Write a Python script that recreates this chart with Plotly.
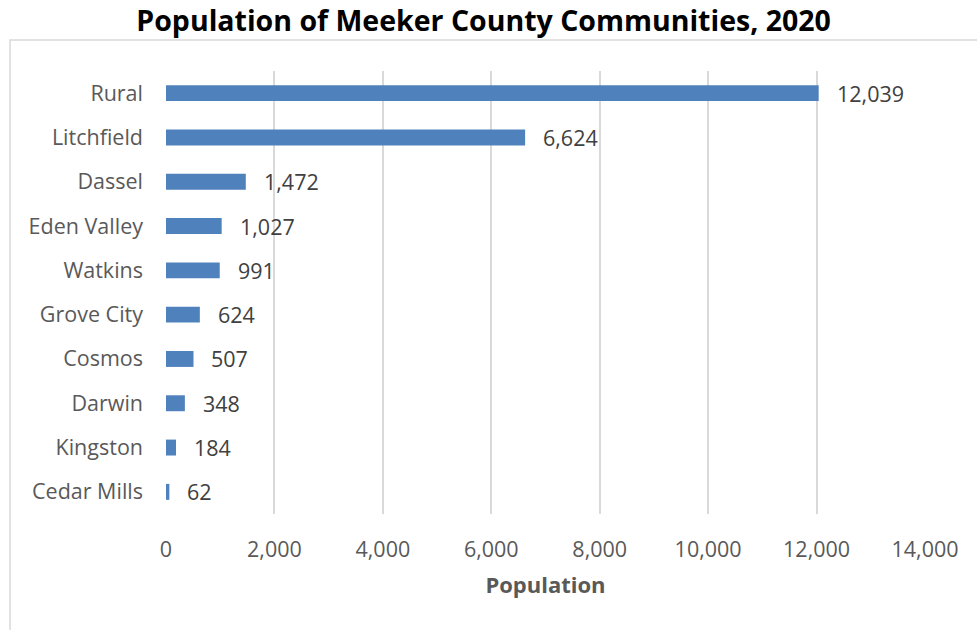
import plotly.graph_objects as go

# Meeker County communities, 2020 population
communities = ["Rural", "Litchfield", "Dassel", "Eden Valley", "Watkins",
               "Grove City", "Cosmos", "Darwin", "Kingston", "Cedar Mills"]
population = [12039, 6624, 1472, 1027, 991, 624, 507, 348, 184, 62]
tick_values = [0, 2000, 4000, 6000, 8000, 10000, 12000, 14000]
tick_labels = ["0", "2,000", "4,000", "6,000", "8,000", "10,000", "12,000", "14,000"]

BAR = "#4F81BD"
GRID = "#D9D9D9"
TXT = "#595959"
FONT = "Open Sans"

fig = go.Figure(go.Bar(
    x=population,
    y=communities,
    orientation="h",
    marker=dict(color=BAR, line=dict(width=0)),
    hoverinfo="skip",
))

# value labels to the right of each bar
for name, val in zip(communities, population):
    fig.add_annotation(
        x=val, y=name, xref="x", yref="y",
        text=f"{val:,}", showarrow=False,
        xanchor="left", yanchor="middle", xshift=16,
        font=dict(family=FONT, size=21.5, color="#404040"),
    )

# light chart-area border
fig.add_shape(type="rect", xref="paper", yref="paper",
              x0=-0.2055, x1=1.3, y0=-0.5, y1=1.07,
              line=dict(color=GRID, width=1.5), fillcolor="rgba(0,0,0,0)", layer="below")

fig.update_layout(
    width=977, height=630,
    margin=dict(l=166, r=52, t=71, b=116),
    paper_bgcolor="white", plot_bgcolor="white",
    bargap=0.64,
    showlegend=False,
    title=dict(text="<b>Population of Meeker County Communities, 2020</b>",
               x=0.495, xanchor="center", y=0.967, yanchor="middle",
               font=dict(family=FONT, size=28.5, color="black")),
    xaxis=dict(range=[0, 14000], tickvals=tick_values, ticktext=tick_labels,
               showgrid=True, gridcolor=GRID, gridwidth=1.5, zeroline=False,
               showline=False, ticks="", ticklabelstandoff=20,
               tickfont=dict(family=FONT, size=21.5, color=TXT),
               title=dict(text="<b>Population</b>", standoff=16,
                          font=dict(family=FONT, size=22, color=TXT))),
    yaxis=dict(autorange="reversed", showgrid=False, zeroline=False, showline=False,
               ticks="", ticklabelstandoff=22,
               tickfont=dict(family=FONT, size=21.5, color=TXT)),
)

fig.write_html("out.html")
